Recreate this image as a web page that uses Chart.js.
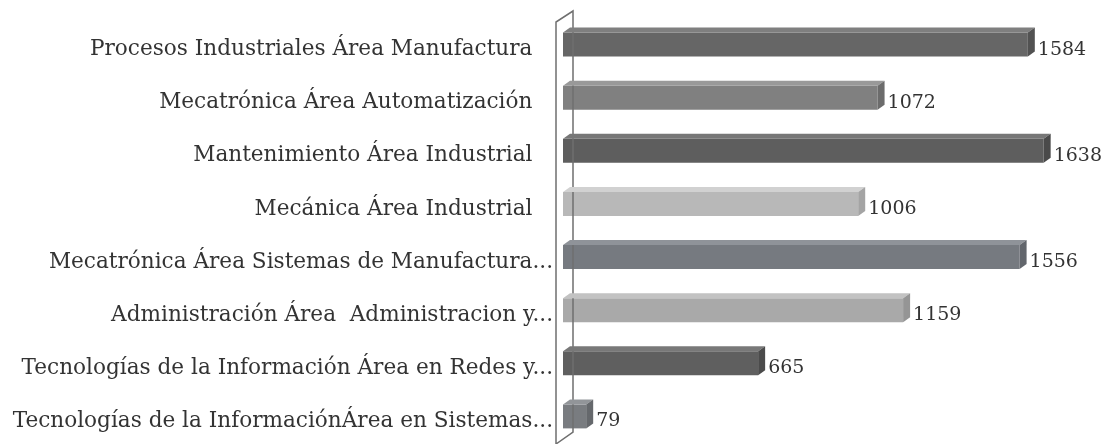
<!DOCTYPE html>
<html>
<head>
<meta charset="utf-8">
<script src="https://cdn.jsdelivr.net/npm/chart.js@4/dist/chart.umd.min.js"></script>
<style>
  html, body { margin: 0; padding: 0; background: #fff; }
  #wrap { width: 1112px; height: 444px; position: relative; }
</style>
</head>
<body>
<div id="wrap"><canvas id="programChart"></canvas></div>
<script>
// Carreras y número de alumnos
const categories = [
  "Procesos Industriales Área Manufactura   ",
  "Mecatrónica Área Automatización   ",
  "Mantenimiento Área Industrial   ",
  "Mecánica Área Industrial   ",
  "Mecatrónica Área Sistemas de Manufactura...",
  "Administración Área  Administracion y...",
  "Tecnologías de la Información Área en Redes y...",
  "Tecnologías de la InformaciónÁrea en Sistemas..."
];
const values = [1584, 1072, 1638, 1006, 1556, 1159, 665, 79];
const barColors = ["#666666", "#808080", "#5e5e5e", "#b8b8b8", "#767a80", "#a9a9a9", "#5f5f5f", "#797c80"];

const DEPTH_X = 7, DEPTH_Y = 5;

function shade(hex, amt) {
  const n = parseInt(hex.slice(1), 16);
  const c = [(n >> 16) & 255, (n >> 8) & 255, n & 255].map(v => Math.max(0, Math.min(255, v + amt)));
  return "rgb(" + c.join(",") + ")";
}

// 3D faces, value labels and the back wall
const bar3d = {
  id: "bar3d",
  afterDatasetsDraw(chart) {
    const ctx = chart.ctx;
    const area = chart.chartArea;
    const meta = chart.getDatasetMeta(0);

    // wall
    ctx.save();
    ctx.strokeStyle = "#6f6f6f";
    ctx.lineWidth = 1.5;
    ctx.beginPath();
    ctx.moveTo(area.left - 7, 444);
    ctx.lineTo(area.left - 7, 22);
    ctx.lineTo(area.left + 10, 11);
    ctx.lineTo(area.left + 10, 432);
    ctx.lineTo(area.left - 7, 444);
    ctx.stroke();
    ctx.restore();

    meta.data.forEach((el, i) => {
      const x0 = el.base, x1 = el.x;
      const yTop = el.y - el.height / 2, yBot = el.y + el.height / 2;
      const col = barColors[i];
      ctx.save();
      // top
      ctx.fillStyle = shade(col, 25);
      ctx.beginPath();
      ctx.moveTo(x0, yTop);
      ctx.lineTo(x0 + DEPTH_X, yTop - DEPTH_Y);
      ctx.lineTo(x1 + DEPTH_X, yTop - DEPTH_Y);
      ctx.lineTo(x1, yTop);
      ctx.closePath();
      ctx.fill();
      // side
      ctx.fillStyle = shade(col, -20);
      ctx.beginPath();
      ctx.moveTo(x1, yTop);
      ctx.lineTo(x1 + DEPTH_X, yTop - DEPTH_Y);
      ctx.lineTo(x1 + DEPTH_X, yBot - DEPTH_Y);
      ctx.lineTo(x1, yBot);
      ctx.closePath();
      ctx.fill();
      // value
      ctx.fillStyle = "#333";
      ctx.font = "19px 'DejaVu Serif'";
      ctx.textAlign = "left";
      ctx.textBaseline = "middle";
      ctx.fillText(values[i], x1 + DEPTH_X + 3, el.y + 5);
      ctx.restore();
    });
  }
};

new Chart(document.getElementById("programChart"), {
  type: "bar",
  data: {
    labels: categories,
    datasets: [{
      data: values,
      backgroundColor: barColors,
      borderWidth: 0,
      barPercentage: 0.9,
      categoryPercentage: 0.5
    }]
  },
  options: {
    indexAxis: "y",
    responsive: true,
    maintainAspectRatio: false,
    animation: false,
    layout: { padding: { top: 18, bottom: 1, left: 0, right: 12 } },
    plugins: { legend: { display: false }, tooltip: { enabled: false } },
    scales: {
      x: { display: false, min: 0, max: 1830 },
      y: {
        afterFit: (scale) => {
          scale.width = 563;
          scale.paddingTop = 0;
          scale.paddingBottom = 0;
        },
        grid: { display: false },
        border: { display: false },
        ticks: {
          padding: 2,
          labelOffset: 5,
          color: "#333",
          font: { family: "'DejaVu Serif'", size: 21.6 }
        }
      }
    }
  },
  plugins: [bar3d]
});
</script>
</body>
</html>
